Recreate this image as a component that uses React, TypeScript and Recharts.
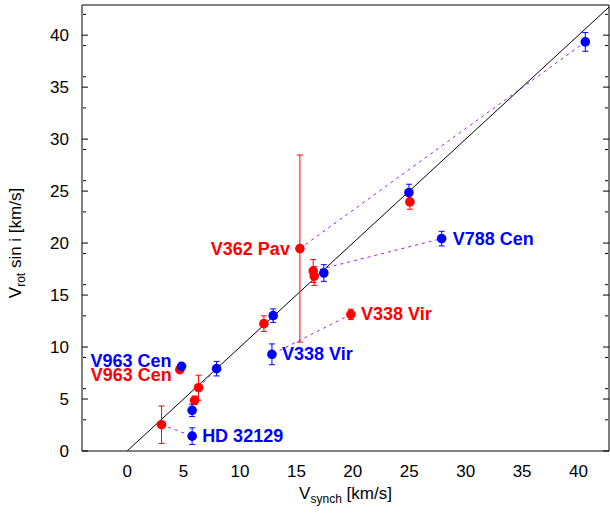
import { ErrorBar, ReferenceLine, Scatter, ScatterChart, XAxis, YAxis } from 'recharts';

// measured stars: x = V_synch, y = V_rot sin i, err = 1 sigma (km/s)
const redStars = [
  { x: 25.06, y: 23.96, err: 0.7 },
  { x: 19.83, y: 13.14, err: 0.5 },
  { x: 15.31, y: 19.47, err: 9.0 },
  { x: 16.49, y: 17.31, err: 1.1 },
  { x: 16.58, y: 16.83, err: 0.9 },
  { x: 12.12, y: 12.25, err: 0.75 },
  { x: 6.33, y: 6.09, err: 1.2 },
  { x: 5.98, y: 4.87, err: 0.4 },
  { x: 3.05, y: 2.53, err: 1.8 },
  { x: 4.67, y: 7.82, err: 0.2 },
];

const blueStars = [
  { x: 40.6, y: 39.35, err: 0.9 },
  { x: 24.97, y: 24.86, err: 0.8 },
  { x: 27.87, y: 20.43, err: 0.7 },
  { x: 17.43, y: 17.12, err: 0.8 },
  { x: 12.94, y: 13.02, err: 0.65 },
  { x: 12.83, y: 9.3, err: 1.0 },
  { x: 7.93, y: 7.92, err: 0.7 },
  { x: 4.82, y: 8.14, err: 0.25 },
  { x: 5.76, y: 3.91, err: 0.6 },
  { x: 5.76, y: 1.43, err: 0.8 },
];

// [red index, blue index] joined by a dashed line
const links = [
  [8, 9],
  [1, 5],
  [2, 0],
  [3, 2],
  [6, 6],
  [7, 8],
  [5, 4],
  [0, 1],
];

const starLabels = [
  { text: 'V362 Pav', series: 'red', index: 2 },
  { text: 'V338 Vir', series: 'red', index: 1 },
  { text: 'V963 Cen', series: 'red', index: 9 },
  { text: 'V788 Cen', series: 'blue', index: 2 },
  { text: 'V338 Vir', series: 'blue', index: 5 },
  { text: 'V963 Cen', series: 'blue', index: 7 },
  { text: 'HD 32129', series: 'blue', index: 9 },
];

const xTicks = [0, 5, 10, 15, 20, 25, 30, 35, 40];
const yTicks = [0, 5, 10, 15, 20, 25, 30, 35, 40];
const xDomain = [-4, 42.7];
const yDomain = [0, 42.9];

const xMinor = Array.from({ length: 47 }, (_, i) => i - 4).filter((v) => v % 5 !== 0);
const yMinor = Array.from({ length: 43 }, (_, i) => i).filter((v) => v % 5 !== 0);

const RED = '#ff0000';
const BLUE = '#0000ff';
const VIOLET = '#a020f0';
const FONT = '"Liberation Sans", Arial, Helvetica, sans-serif';

// where each label sits next to its star
const placement: Record<string, { anchor: 'start' | 'end'; dx: number; dy: number }> = {
  'red V362 Pav': { anchor: 'end', dx: -10, dy: 0 },
  'red V338 Vir': { anchor: 'start', dx: 10, dy: 0 },
  'red V963 Cen': { anchor: 'end', dx: -8, dy: 5.5 },
  'blue V788 Cen': { anchor: 'start', dx: 11, dy: 0 },
  'blue V338 Vir': { anchor: 'start', dx: 10, dy: 0 },
  'blue V963 Cen': { anchor: 'end', dx: -10, dy: -5.5 },
  'blue HD 32129': { anchor: 'start', dx: 10, dy: 0 },
};

const labelData = starLabels.map((l) => {
  const star = (l.series === 'red' ? redStars : blueStars)[l.index];
  return { x: star.x, y: star.y, text: l.text, series: l.series };
});

const linkSegments = links.map(([r, b]) => [
  { x: redStars[r].x, y: redStars[r].y },
  { x: blueStars[b].x, y: blueStars[b].y },
]);

const dot = (color: string) => (p: any) => <circle cx={p.cx} cy={p.cy} r={4.8} fill={color} />;

const NoTick = () => null;

function StarLabel(p: any) {
  const { series, text } = p.payload;
  const pl = placement[`${series} ${text}`];
  return (
    <text
      x={p.cx + pl.dx}
      y={p.cy + pl.dy}
      textAnchor={pl.anchor}
      dominantBaseline="central"
      fill={series === 'red' ? RED : BLUE}
      fontFamily={FONT}
      fontWeight="bold"
      fontSize={18}
    >
      {text}
    </text>
  );
}

function XTitle({ viewBox }: any) {
  const cx = viewBox.x + viewBox.width / 2;
  const y = viewBox.y + 48;
  return (
    <text x={cx} y={y} textAnchor="middle" fontFamily={FONT} fontSize={17} fill="#000">
      V<tspan fontSize={12} dy={4}>synch</tspan>
      <tspan dy={-4}> [km/s]</tspan>
    </text>
  );
}

function YTitle({ viewBox }: any) {
  const x = 21;
  const cy = viewBox.y + viewBox.height / 2 + 15;
  return (
    <text
      x={x}
      y={cy}
      transform={`rotate(-90 ${x} ${cy})`}
      textAnchor="middle"
      fontFamily={FONT}
      fontSize={17}
      fill="#000"
    >
      V<tspan fontSize={12} dy={4}>rot</tspan>
      <tspan dy={-4}> sin i [km/s]</tspan>
    </text>
  );
}

const tickFont = { fontSize: 17, fill: '#000', fontFamily: FONT };
const blackLine = { stroke: '#000' };

export default function App() {
  return (
    <div style={{ position: 'absolute', left: 0, top: 0, background: '#fff' }}>
      <ScatterChart width={610} height={513} margin={{ top: 5, right: 1, bottom: 12, left: 32 }}>
        <XAxis
          xAxisId="main"
          type="number"
          dataKey="x"
          domain={xDomain}
          allowDataOverflow
          ticks={xTicks}
          height={50}
          tickLine={false}
          tickMargin={8}
          tick={tickFont}
          axisLine={blackLine}
          label={<XTitle />}
        />
        <YAxis
          yAxisId="main"
          type="number"
          dataKey="y"
          domain={yDomain}
          allowDataOverflow
          ticks={yTicks}
          width={50}
          tickLine={false}
          tickMargin={7}
          tick={tickFont}
          axisLine={blackLine}
          label={<YTitle />}
        />

        {/* inward tick marks on all four sides */}
        <XAxis xAxisId="bMaj" type="number" domain={xDomain} allowDataOverflow ticks={xTicks} mirror height={1} tick={NoTick} tickSize={6} axisLine={false} tickLine={blackLine} />
        <XAxis xAxisId="bMin" type="number" domain={xDomain} allowDataOverflow ticks={xMinor} mirror height={1} tick={NoTick} tickSize={3} axisLine={false} tickLine={blackLine} />
        <XAxis xAxisId="tMaj" orientation="top" type="number" domain={xDomain} allowDataOverflow ticks={xTicks} mirror height={1} tick={NoTick} tickSize={6} axisLine={blackLine} tickLine={blackLine} />
        <XAxis xAxisId="tMin" orientation="top" type="number" domain={xDomain} allowDataOverflow ticks={xMinor} mirror height={1} tick={NoTick} tickSize={3} axisLine={false} tickLine={blackLine} />
        <YAxis yAxisId="lMaj" type="number" domain={yDomain} allowDataOverflow ticks={yTicks} mirror width={1} tick={NoTick} tickSize={6} axisLine={false} tickLine={blackLine} />
        <YAxis yAxisId="lMin" type="number" domain={yDomain} allowDataOverflow ticks={yMinor} mirror width={1} tick={NoTick} tickSize={3} axisLine={false} tickLine={blackLine} />
        <YAxis yAxisId="rMaj" orientation="right" type="number" domain={yDomain} allowDataOverflow ticks={yTicks} mirror width={1} tick={NoTick} tickSize={6} axisLine={blackLine} tickLine={blackLine} />
        <YAxis yAxisId="rMin" orientation="right" type="number" domain={yDomain} allowDataOverflow ticks={yMinor} mirror width={1} tick={NoTick} tickSize={3} axisLine={false} tickLine={blackLine} />

        <ReferenceLine
          xAxisId="main"
          yAxisId="main"
          segment={[{ x: 0, y: 0 }, { x: 42.7, y: 42.7 }]}
          stroke="#000"
          strokeWidth={1}
          ifOverflow="hidden"
        />
        {linkSegments.map((seg, i) => (
          <ReferenceLine
            key={i}
            xAxisId="main"
            yAxisId="main"
            segment={seg}
            stroke={VIOLET}
            strokeWidth={1}
            strokeDasharray="3 4"
          />
        ))}

        <Scatter xAxisId="main" yAxisId="main" data={redStars} shape={dot(RED)} isAnimationActive={false}>
          <ErrorBar dataKey="err" direction="y" width={3} stroke={RED} strokeWidth={1} isAnimationActive={false} />
        </Scatter>
        <Scatter xAxisId="main" yAxisId="main" data={blueStars} shape={dot(BLUE)} isAnimationActive={false}>
          <ErrorBar dataKey="err" direction="y" width={3} stroke={BLUE} strokeWidth={1} isAnimationActive={false} />
        </Scatter>
        <Scatter xAxisId="main" yAxisId="main" data={labelData} shape={StarLabel} isAnimationActive={false} />
      </ScatterChart>
    </div>
  );
}
